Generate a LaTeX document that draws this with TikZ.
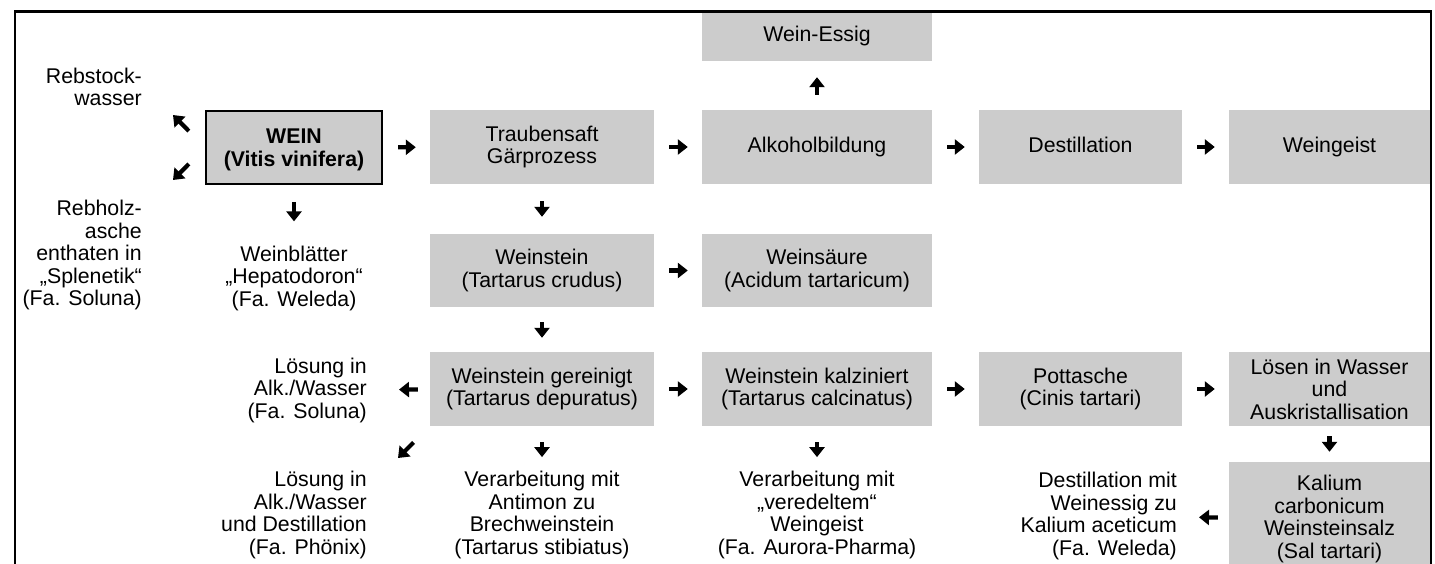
\documentclass[tikz,border=0pt]{standalone}
\usepackage{fontspec}
\setmainfont{Liberation Sans}
\usetikzlibrary{arrows.meta}
\definecolor{boxgray}{RGB}{204,204,204}

\tikzset{
  box/.style={fill=boxgray, inner sep=0pt, align=center, minimum height=74pt},
  oneline/.style={text height=15pt, text depth=4.5pt},
  note/.style={inner sep=0pt, align=center},
  rnote/.style={inner sep=0pt, align=right, anchor=east},
  arr/.style={-{Triangle[length=10pt,width=15pt]}, line width=4.2pt},
  hgap/.style={arr, shorten <=15pt, shorten >=14pt},
}

\begin{document}
\begin{tikzpicture}[x=1pt, y=-1pt, font=\fontsize{21.3}{22.5}\selectfont]
			\useasboundingbox (0,0) rectangle (1435,564);
			\clip (0,0) rectangle (1435,564);
			% upper row
			\node (wein)[box, draw, line width=2pt, minimum width=176pt, minimum height=73pt, text depth=0pt, font=\fontsize{21.3}{22.5}\selectfont\bfseries] at (294,147.5) {WEIN\\(Vitis vinifera)};
			\node (trauben)[box, minimum width=224pt] at (542,147) {Traubensaft\\Gärprozess};
			\node (alk)[box, oneline, minimum width=230pt] at (817,147) {Alkoholbildung};
			\node (dest)[box, oneline, minimum width=203pt] at (1080.5,147) {Destillation};
			\node (geist)[box, oneline, minimum width=201pt] at (1329.5,147) {Weingeist};
			\node (essig)[box, oneline, minimum width=230pt, minimum height=50pt] at (817,36) {Wein-Essig};
			% middle rows
			\node (stein)[box, minimum width=224pt, minimum height=73pt] at (542,270.5) {Weinstein\\(Tartarus crudus)};
			\node (saeure)[box, minimum width=230pt, minimum height=73pt] at (817,270.5) {Weinsäure\\(Acidum tartaricum)};
			\node (rein)[box, minimum width=224pt] at (542,389) {Weinstein gereinigt\\(Tartarus depuratus)};
			\node (kalz)[box, minimum width=230pt] at (817,389) {Weinstein kalziniert\\(Tartarus calcinatus)};
			\node (pott)[box, minimum width=203pt] at (1080.5,389) {Pottasche\\(Cinis tartari)};
			\node (loesen)[box, minimum width=201pt] at (1329.5,389) {Lösen in Wasser\\und\\Auskristallisation};
			\node (kalium)[box, minimum width=201pt, minimum height=114pt] at (1329.5,519) {Kalium\\carbonicum\\Weinsteinsalz\\(Sal tartari)};
			% plain texts
			\node (stock)[rnote] at (142,87) {Rebstock-\\wasser};
			\node (holz)[rnote] at (142,255) {Rebholz-\\asche\\enthaten in\\„Splenetik“\\(Fa. Soluna)};
			\node (blatt)[note] at (294,278) {Weinblätter\\„Hepatodoron“\\(Fa. Weleda)};
			\node (loes1)[rnote] at (367,390) {Lösung in\\Alk./Wasser\\(Fa. Soluna)};
			\node (loes2)[rnote] at (367,515) {Lösung in\\Alk./Wasser\\und Destillation\\(Fa. Phönix)};
			\node (brech)[note] at (542,515) {Verarbeitung mit\\Antimon zu\\Brechweinstein\\(Tartarus stibiatus)};
			\node (aurora)[note] at (817,515) {Verarbeitung mit\\„veredeltem“\\Weingeist\\(Fa. Aurora-Pharma)};
			\node (acet)[rnote] at (1177,516) {Destillation mit\\Weinessig zu\\Kalium aceticum\\(Fa. Weleda)};
			\coordinate (nwend) at (173,115);
			\coordinate (swend) at (173,180);
			\coordinate (swend2) at (398,458);
			% arrows
			\draw[hgap] (wein) -- (trauben);
			\draw[hgap] (trauben) -- (alk);
			\draw[hgap] (alk) -- (dest);
			\draw[hgap] (dest) -- (geist);
			\draw[hgap] (stein) -- (saeure);
			\draw[hgap] (rein) -- (kalz);
			\draw[hgap] (kalz) -- (pott);
			\draw[hgap] (pott) -- (loesen);
			\draw[arr, shorten <=15pt, shorten >=16pt] (alk) -- (essig);
			\draw[arr, shorten <=17pt, shorten >=24pt] (wein) -- (blatt);
			\draw[arr, shorten <=17pt, shorten >=17pt] (trauben) -- (stein);
			\draw[arr, shorten <=15pt, shorten >=14pt] (stein) -- (rein);
			\draw[arr, shorten <=16pt, shorten >=14pt] (rein) -- (brech);
			\draw[arr, shorten <=16pt, shorten >=14pt] (kalz) -- (aurora);
			\draw[arr, shorten <=10pt, shorten >=10pt] (loesen) -- (kalium);
			\draw[arr, shorten <=12pt, shorten >=32pt] (rein) -- (loes1);
			\draw[arr, shorten <=11pt, shorten >=22pt] (kalium) -- (acet);
			\draw[arr, shorten <=23pt] (wein.west) -- (nwend);
			\draw[arr, shorten <=23pt] (wein.west) -- (swend);
			\draw[arr, shorten <=23pt] (rein.south west) -- (swend2);
			% frame
			\draw[line width=2.5pt] (15,564) -- (15,11.5) -- (1431,11.5) -- (1431,564);
		\end{tikzpicture}
\end{document}
